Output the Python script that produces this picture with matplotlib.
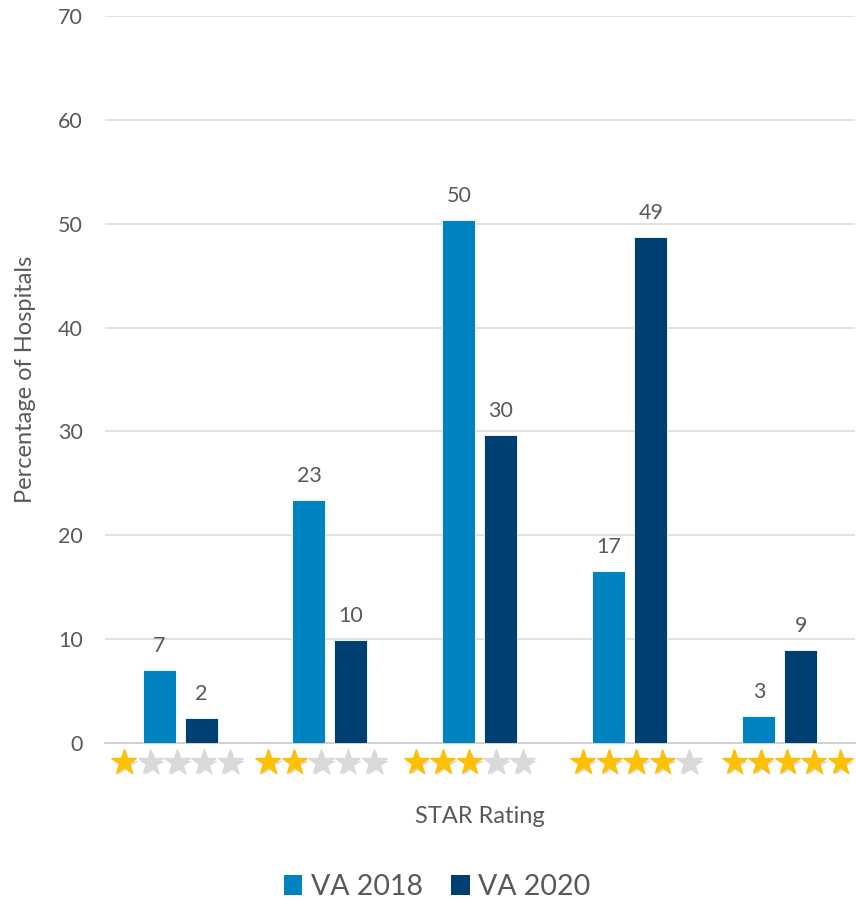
import numpy as np
import matplotlib.pyplot as plt
import matplotlib.patheffects as pe
from matplotlib.patches import Patch

# STAR rating distribution, VA hospitals
ratings = [1, 2, 3, 4, 5]
va_2018 = [7.0, 23.4, 50.4, 16.6, 2.6]
va_2020 = [2.4, 9.9, 29.7, 48.7, 9.0]
series_names = ["VA 2018", "VA 2020"]
yticks = [0, 10, 20, 30, 40, 50, 60, 70]

c2018 = "#0084c1"
c2020 = "#003f72"
text_c = "#595959"
grid_c = "#d9d9d9"

plt.rcParams["font.family"] = ["Lato", "DejaVu Sans"]

fig = plt.figure(figsize=(8.56, 9.0), dpi=100)
ax = fig.add_axes([0.1227, 0.1744, 0.876, 0.8078])

x = np.arange(len(ratings))
w = 0.22
off = 0.14
b1 = ax.bar(x - off, va_2018, w, color=c2018, edgecolor="white", linewidth=0.6, zorder=3)
b2 = ax.bar(x + off, va_2020, w, color=c2020, edgecolor="white", linewidth=0.6, zorder=3)

# value labels above each bar
for bars, vals in [(b1, va_2018), (b2, va_2020)]:
    for rect, v in zip(bars, vals):
        ax.annotate(f"{v:.0f}", (rect.get_x() + rect.get_width() / 2, v),
                    xytext=(0, 13), textcoords="offset points",
                    ha="center", va="baseline", fontsize=15.5, color=text_c)

ax.set_xlim(-0.5, 4.5)
ax.set_ylim(0, 70)
ax.set_yticks(yticks)
ax.set_xticks([])
ax.tick_params(axis="y", length=0, pad=16, labelsize=15.5, labelcolor=text_c)
ax.grid(axis="y", color=grid_c, linewidth=1.1, zorder=0)
for s in ["top", "right", "left"]:
    ax.spines[s].set_visible(False)
ax.spines["bottom"].set_color("#d0d0d0")
ax.spines["bottom"].set_linewidth(1.4)

ax.set_ylabel("Percentage of Hospitals", fontsize=17, color=text_c, labelpad=16)
ax.set_xlabel("STAR Rating", fontsize=17, color=text_c, labelpad=45)

# star icons under each category
star_step = 0.177
star_shift = [-0.02, -0.06, -0.07, 0.04, 0.05]
trans = ax.get_xaxis_transform()
shadow = [pe.SimplePatchShadow(offset=(1.5, -2), shadow_rgbFace="#9a9a9a", alpha=0.35), pe.Normal()]
for i, r in enumerate(ratings):
    for k in range(5):
        sx = x[i] + star_shift[i] + (k - 2) * star_step
        col = "#ffc000" if k < r else "#d9d9d9"
        ax.plot(sx, -0.026, marker="*", markersize=19, color=col,
                markeredgecolor=col, transform=trans, clip_on=False,
                path_effects=shadow, zorder=4)

handles = [Patch(facecolor=c2018), Patch(facecolor=c2020)]
fig.legend(handles, series_names, loc="center", bbox_to_anchor=(437 / 856, 1 - 887 / 900),
           ncol=2, frameon=False, fontsize=20.5, labelcolor=text_c,
           handlelength=0.65, handleheight=0.65, handletextpad=0.3, columnspacing=1.0)

fig.savefig("out.png", dpi=100)
